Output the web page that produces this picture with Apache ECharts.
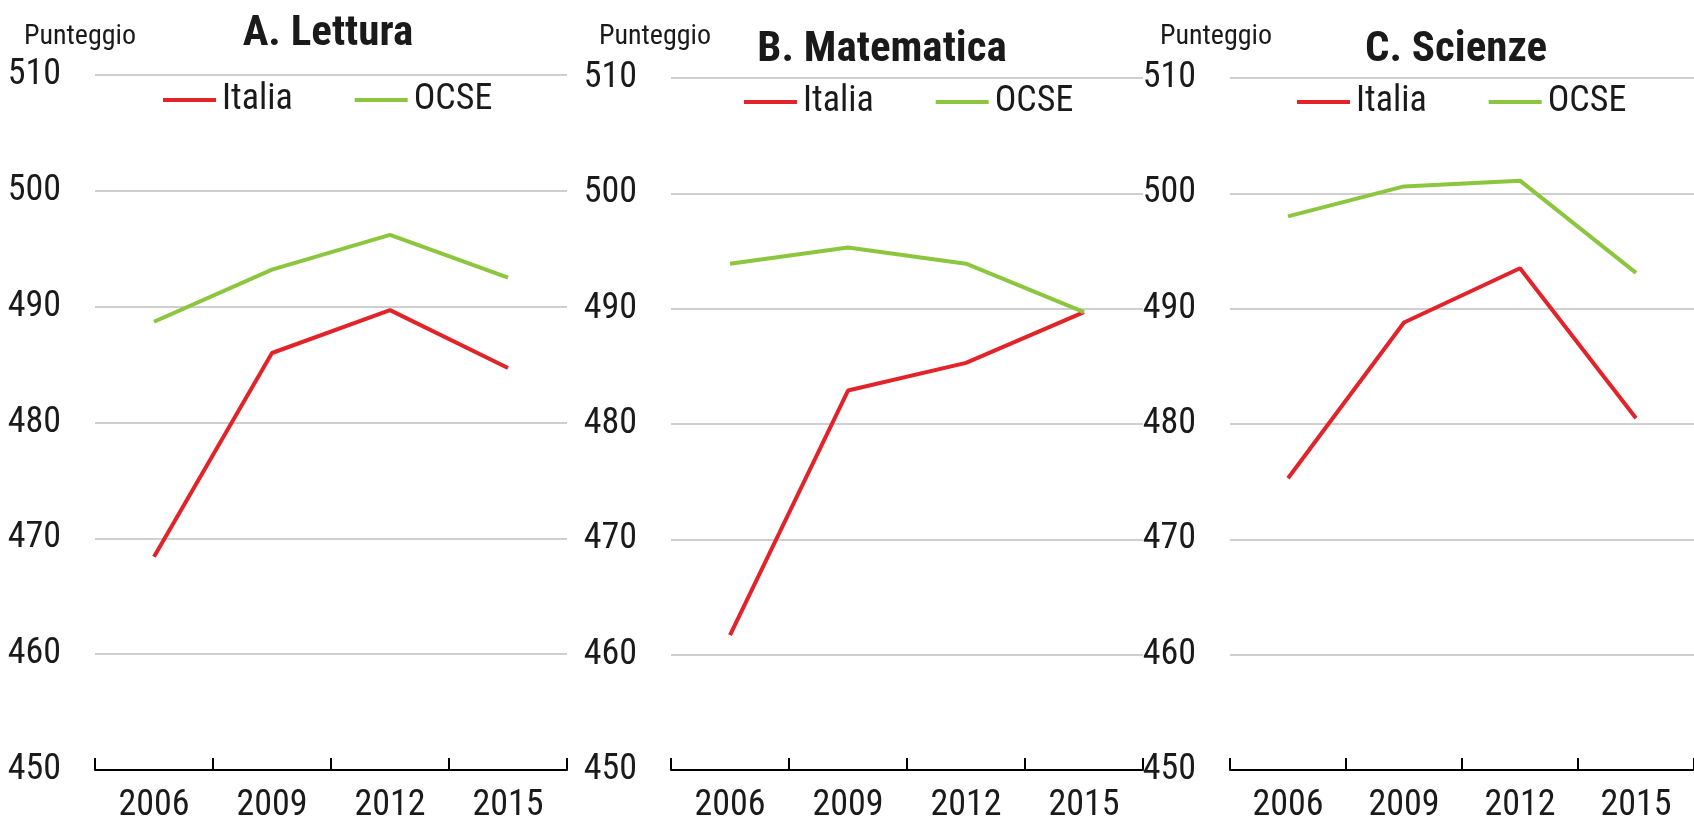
<!DOCTYPE html>
<html>
<head>
<meta charset="utf-8">
<script src="https://cdn.jsdelivr.net/npm/echarts@6/dist/echarts.min.js"></script>
<style>
    html, body { margin: 0; padding: 0; background: #ffffff; }
    #chart { width: 1694px; height: 824px; }
</style>
</head>
<body>
<div id="chart"></div>
<script>
// anni PISA
var years = ['2006', '2009', '2012', '2015'];
var yTicks = [450, 460, 470, 480, 490, 500, 510];

// A. Lettura
var letturaItalia = [468.4, 486.0, 489.7, 484.7];
var letturaOcse = [488.7, 493.2, 496.2, 492.5];
// B. Matematica
var matematicaItalia = [461.7, 482.9, 485.3, 489.7];
var matematicaOcse = [493.9, 495.3, 493.9, 489.7];
// C. Scienze
var scienzeItalia = [475.3, 488.8, 493.5, 480.5];
var scienzeOcse = [498.0, 500.6, 501.1, 493.1];

var panelTitles = ['A. Lettura', 'B. Matematica', 'C. Scienze'];
var unitLabel = 'Punteggio';

var FONT = '"Roboto Condensed", "Liberation Sans Narrow", sans-serif';
var RED = '#e2232a';
var GREEN = '#8cc63f';

var panels = [
    { left: 95, top: 75, italia: letturaItalia, ocse: letturaOcse, titleX: 328, titleY: 34, unitX: 80, legendX: 163, legendY: 82 },
    { left: 671, top: 78, italia: matematicaItalia, ocse: matematicaOcse, titleX: 882, titleY: 50, unitX: 655, legendX: 744, legendY: 84 },
    { left: 1230, top: 78, italia: scienzeItalia, ocse: scienzeOcse, titleX: 1456, titleY: 50, unitX: 1216, legendX: 1297, legendY: 84 }
];

var grid = [], xAxis = [], yAxis = [], series = [], legend = [], graphic = [];

panels.forEach(function(p, i) {
    grid.push({ left: p.left, top: p.top, width: 472, height: 696, containLabel: false });
    xAxis.push({
        type: 'category',
        gridIndex: i,
        data: years,
        boundaryGap: true,
        axisLine: { show: true, lineStyle: { color: '#000000', width: 2 } },
        axisTick: { show: true, inside: true, length: 12, lineStyle: { color: '#000000', width: 2 } },
        axisLabel: { color: '#1a1a1a', fontFamily: FONT, fontSize: 36, margin: 18 },
        splitLine: { show: false }
    });
    yAxis.push({
        type: 'value',
        gridIndex: i,
        min: yTicks[0],
        max: yTicks[yTicks.length - 1],
        interval: 10,
        axisLine: { show: false },
        axisTick: { show: false },
        axisLabel: { color: '#1a1a1a', fontFamily: FONT, fontSize: 36, margin: 34 },
        splitLine: { show: true, lineStyle: { color: '#cfcfcf', width: 2 } }
    });
    series.push({
        name: 'Italia',
        type: 'line',
        xAxisIndex: i,
        yAxisIndex: i,
        data: p.italia,
        symbol: 'none',
        lineStyle: { color: RED, width: 4 },
        itemStyle: { color: RED }
    });
    series.push({
        name: 'OCSE',
        type: 'line',
        xAxisIndex: i,
        yAxisIndex: i,
        data: p.ocse,
        symbol: 'none',
        lineStyle: { color: GREEN, width: 4 },
        itemStyle: { color: GREEN }
    });
    legend.push({
        left: p.legendX,
        top: p.legendY,
        padding: 0,
        itemGap: 62,
        itemWidth: 53,
        itemHeight: 4,
        icon: 'rect',
        selectedMode: false,
        data: ['Italia', 'OCSE'],
        textStyle: { color: '#1a1a1a', fontFamily: FONT, fontSize: 36, padding: [0, 0, 0, 1] }
    });
    graphic.push({
        type: 'text',
        x: p.titleX,
        y: p.titleY,
        style: {
            text: panelTitles[i],
            font: 'bold 43px ' + FONT,
            fill: '#1a1a1a',
            textAlign: 'center',
            textVerticalAlign: 'middle'
        }
    });
    graphic.push({
        type: 'text',
        x: p.unitX,
        y: 37,
        style: {
            text: unitLabel,
            font: '28px ' + FONT,
            fill: '#1a1a1a',
            textAlign: 'center',
            textVerticalAlign: 'middle'
        }
    });
});

var myChart = echarts.init(document.getElementById('chart'));
var option = {
    backgroundColor: '#ffffff',
    animation: false,
    grid: grid,
    xAxis: xAxis,
    yAxis: yAxis,
    legend: legend,
    graphic: graphic,
    series: series
};
myChart.setOption(option);
</script>
</body>
</html>
